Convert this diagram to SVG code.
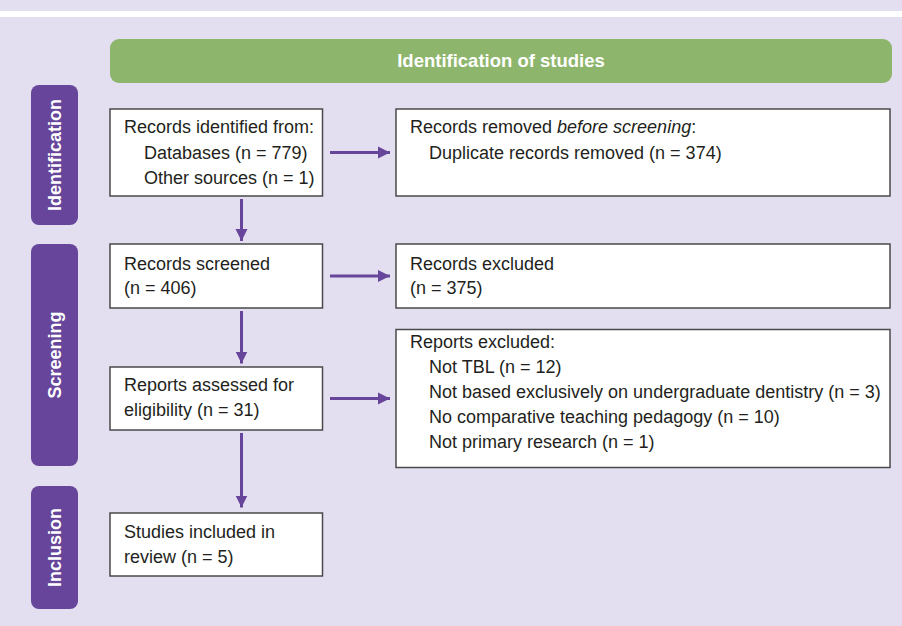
<svg xmlns="http://www.w3.org/2000/svg" width="902" height="626" viewBox="0 0 902 626">
<defs>
<style>
.bg{fill:#e3dff0}
.box{fill:#ffffff;stroke:#4a4a4a;stroke-width:1.5}
.lab{fill:#66459a}
.t{font-family:"Liberation Sans",Arial,sans-serif;font-size:18px;fill:#231f20}
.lt{font-family:"Liberation Sans","Open Sans",Arial,sans-serif;font-size:18px;font-weight:bold;fill:#ffffff;text-anchor:middle}
.ht{font-family:"Liberation Sans",Arial,sans-serif;font-size:18.5px;font-weight:bold;fill:#ffffff;text-anchor:middle}
.c{stroke:#66459a;stroke-width:3;fill:none}
</style>
<marker id="ah" viewBox="0 0 10 10" refX="10" refY="5" markerWidth="4" markerHeight="4.3" markerUnits="strokeWidth" orient="auto">
<path d="M0,0 L10,5 L0,10 z" fill="#66459a"/>
</marker>
</defs>
<rect x="0" y="0" width="902" height="626" fill="#e3dff0"/>
<rect x="0" y="11" width="902" height="6" fill="#ffffff"/>
<rect x="8" y="17" width="894" height="609" class="bg"/>

<g id="header">
<rect x="110" y="39" width="782" height="44" rx="9" fill="#8db56b"/>
<text x="501" y="67" class="ht">Identification of studies</text>
</g>

<g id="phase-identification">
<rect x="31" y="85" width="47" height="140" rx="8" class="lab"/>
<text class="lt" transform="translate(61,155) rotate(-90)">Identification</text>
</g>
<g id="phase-screening">
<rect x="31" y="244" width="47" height="222" rx="8" class="lab"/>
<text class="lt" transform="translate(61,355) rotate(-90)">Screening</text>
</g>
<g id="phase-inclusion">
<rect x="31" y="486" width="47" height="123" rx="8" class="lab"/>
<text class="lt" transform="translate(61,547.5) rotate(-90)">Inclusion</text>
</g>

<g id="records-identified">
<rect x="110" y="109" width="212.5" height="87" class="box"/>
<text class="t" x="124" y="133">Records identified from:</text>
<text class="t" x="144" y="159">Databases (n = 779)</text>
<text class="t" x="144" y="184">Other sources (n = 1)</text>
</g>
<g id="records-removed">
<rect x="396" y="109" width="494" height="87" class="box"/>
<text class="t" x="410" y="133">Records removed <tspan font-style="italic">before screening</tspan>:</text>
<text class="t" x="429" y="159">Duplicate records removed (n = 374)</text>
</g>
<g id="records-screened">
<rect x="110" y="244" width="212.5" height="64" class="box"/>
<text class="t" x="124" y="270">Records screened</text>
<text class="t" x="124" y="294">(n = 406)</text>
</g>
<g id="records-excluded">
<rect x="396" y="244" width="494" height="64" class="box"/>
<text class="t" x="410" y="270">Records excluded</text>
<text class="t" x="410" y="294">(n = 375)</text>
</g>
<g id="reports-assessed">
<rect x="110" y="367" width="212.5" height="63" class="box"/>
<text class="t" x="124" y="391">Reports assessed for</text>
<text class="t" x="124" y="416">eligibility (n = 31)</text>
</g>
<g id="reports-excluded">
<rect x="396" y="329.5" width="494" height="138" class="box"/>
<text class="t" x="410" y="348">Reports excluded:</text>
<text class="t" x="429" y="373">Not TBL (n = 12)</text>
<text class="t" x="429" y="398">Not based exclusively on undergraduate dentistry (n = 3)</text>
<text class="t" x="429" y="423">No comparative teaching pedagogy (n = 10)</text>
<text class="t" x="429" y="448">Not primary research (n = 1)</text>
</g>
<g id="studies-included">
<rect x="110" y="513" width="212.5" height="63" class="box"/>
<text class="t" x="124" y="537.5">Studies included in</text>
<text class="t" x="124" y="562.5">review (n = 5)</text>
</g>

<g id="connectors">
<line x1="330" y1="152.5" x2="390" y2="152.5" class="c" marker-end="url(#ah)"/>
<line x1="330" y1="276" x2="390" y2="276" class="c" marker-end="url(#ah)"/>
<line x1="330" y1="398.5" x2="390" y2="398.5" class="c" marker-end="url(#ah)"/>
<line x1="241.5" y1="199" x2="241.5" y2="241" class="c" marker-end="url(#ah)"/>
<line x1="241.5" y1="311" x2="241.5" y2="363.5" class="c" marker-end="url(#ah)"/>
<line x1="241.5" y1="433" x2="241.5" y2="507.5" class="c" marker-end="url(#ah)"/>
</g>
</svg>
